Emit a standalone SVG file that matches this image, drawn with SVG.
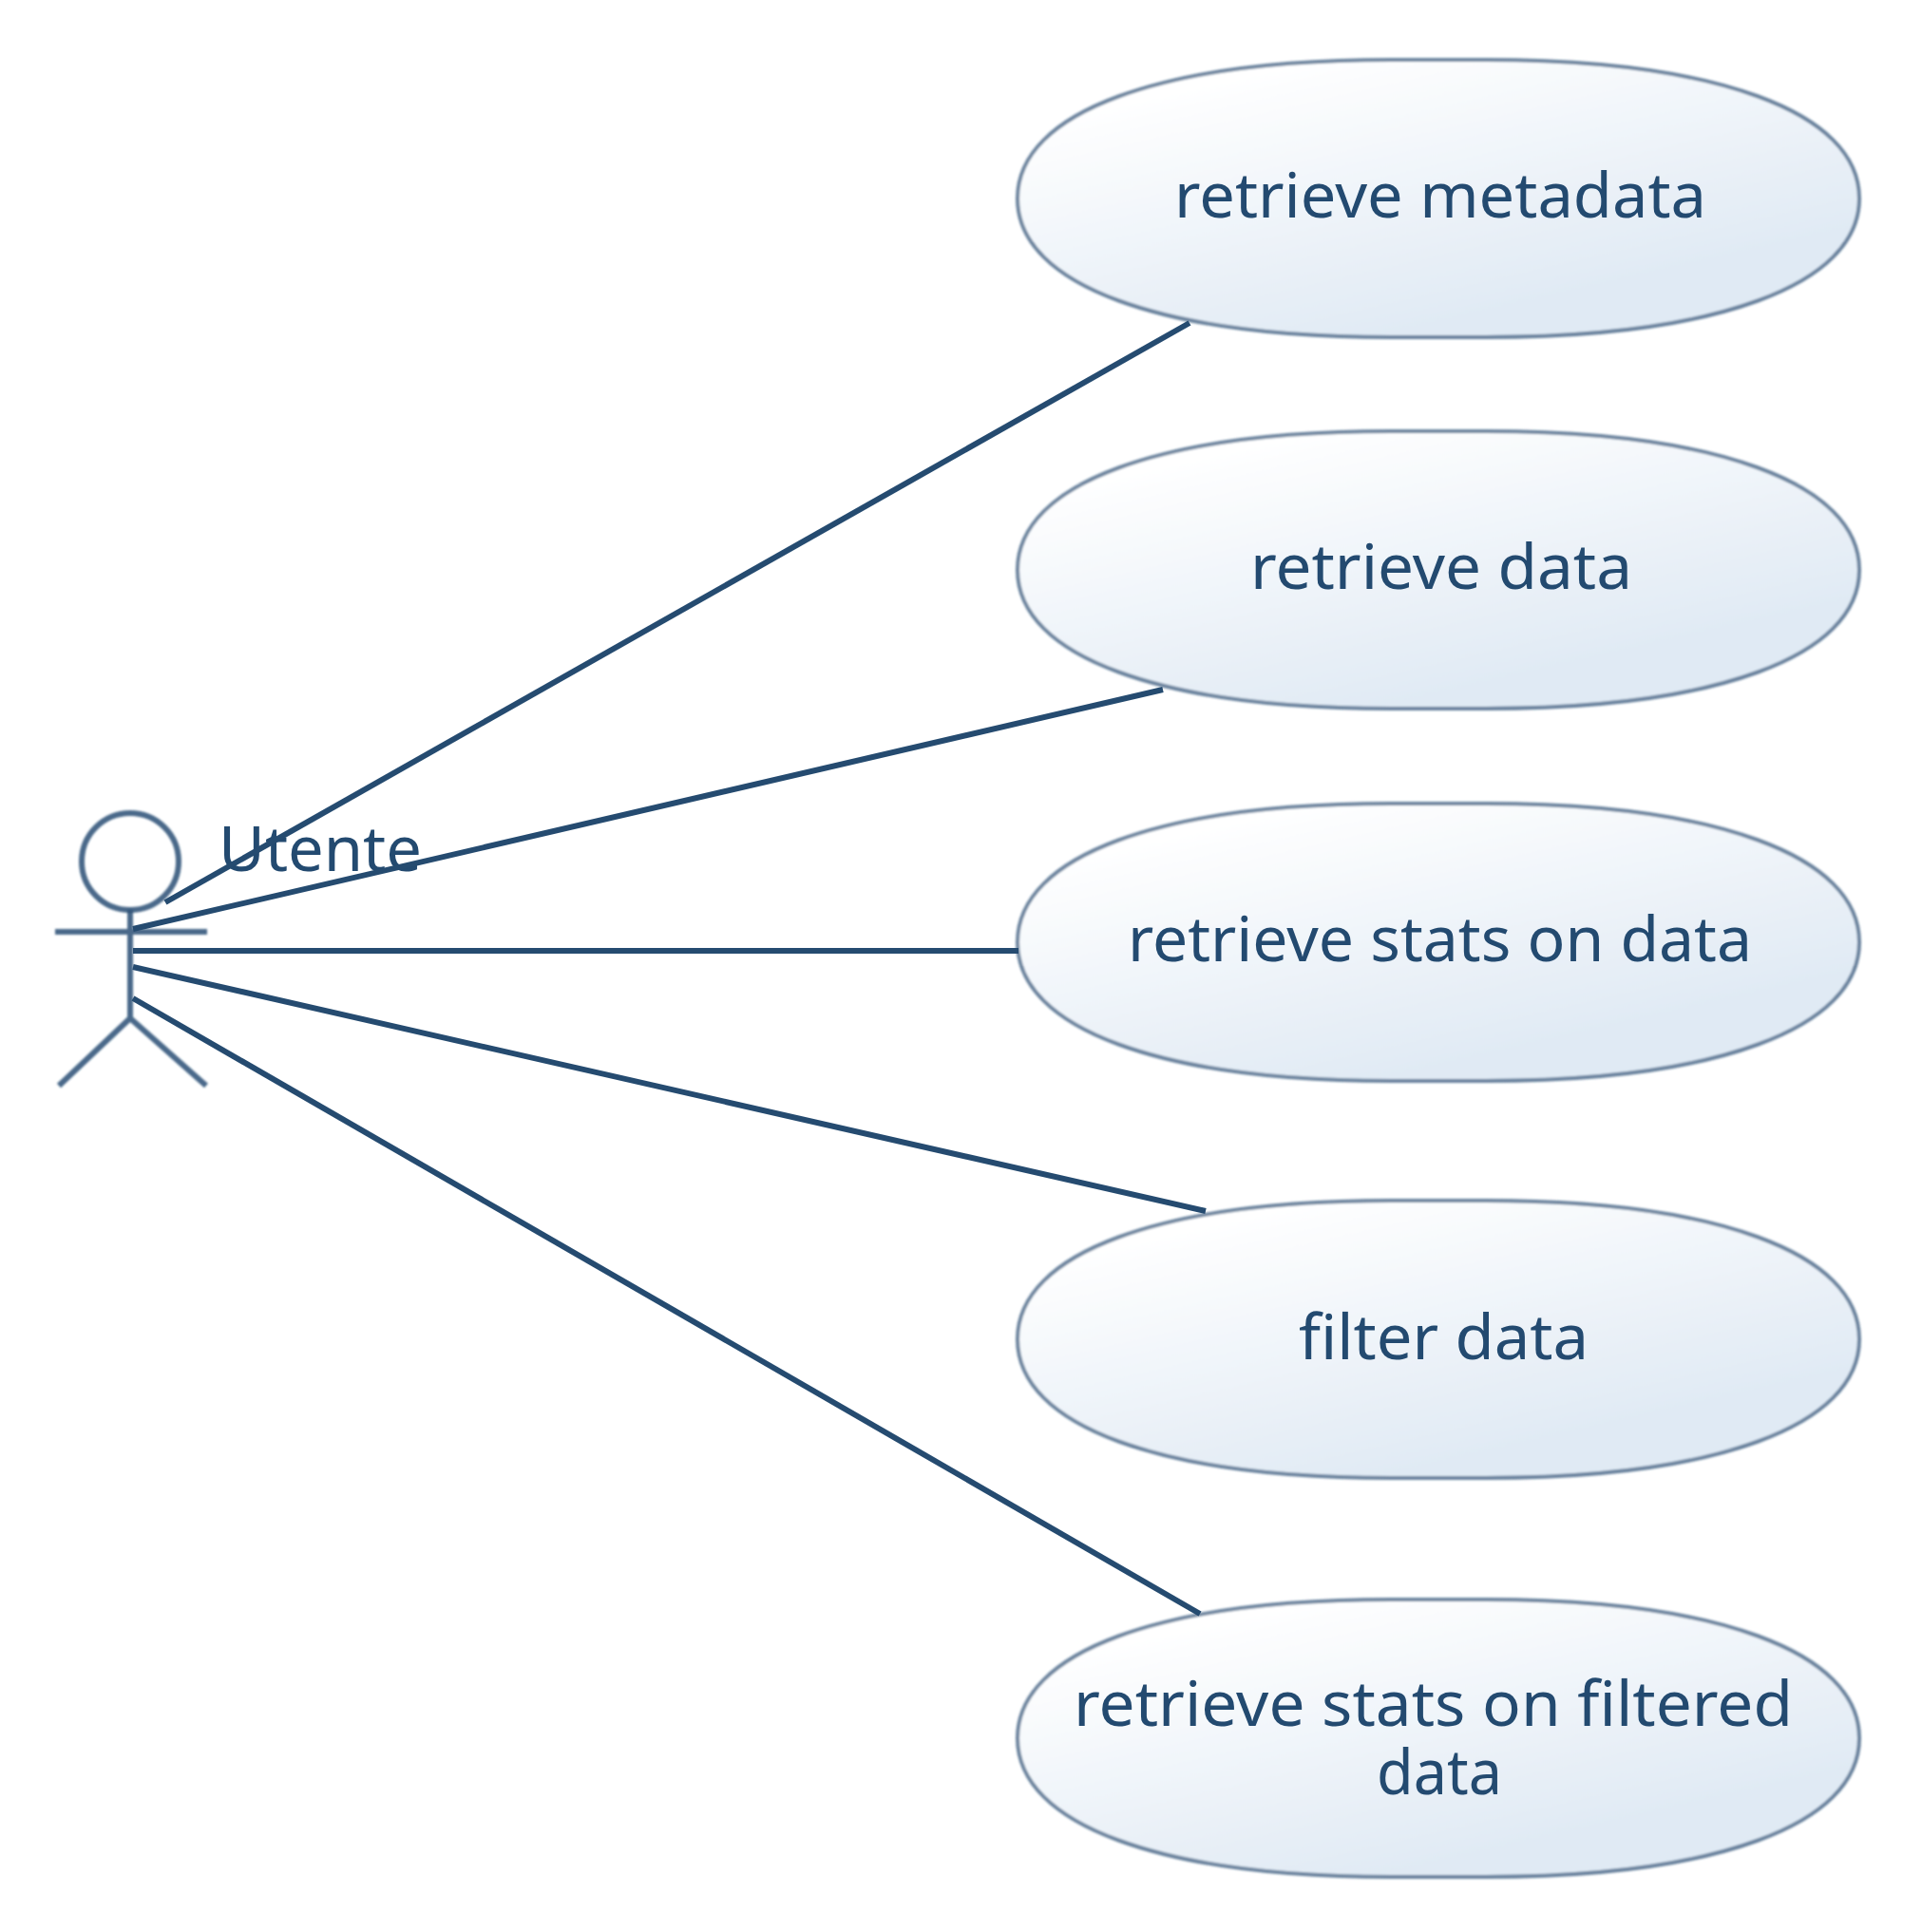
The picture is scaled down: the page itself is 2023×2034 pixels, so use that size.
<svg xmlns="http://www.w3.org/2000/svg" width="2023" height="2034" viewBox="0 0 2023 2034">
<style>
.uc{fill:url(#g);stroke:#2a4f75;stroke-width:4;stroke-opacity:.7;filter:url(#b)}
.ac{fill:none;stroke:#2a4f75;stroke-width:6;stroke-opacity:.85;filter:url(#b)}
.t{font-family:"Noto Sans","Open Sans",sans-serif;font-size:66px;fill:#234a70;text-anchor:start}
.c{stroke:#254b70;stroke-width:6;fill:none}
</style>
<defs>
<linearGradient id="g" x1="0.22" y1="0.08" x2="0.72" y2="0.8"><stop offset="0" stop-color="#ffffff"/><stop offset="1" stop-color="#e0eaf4"/></linearGradient>
<filter id="b" x="-5%" y="-5%" width="110%" height="110%"><feGaussianBlur stdDeviation="1.1"/></filter>
<path id="u" d="M-443 0C-443 -92 -290 -146 -50 -146H50C290 -146 443 -92 443 0C443 92 290 146 50 146H-50C-290 146 -443 92 -443 0Z"/>
</defs>
<rect width="2023" height="2034" fill="#ffffff"/>
<g id="uc1"><use href="#u" class="uc" x="1514" y="209"/><text class="t" x="1236" y="229" textLength="560" lengthAdjust="spacingAndGlyphs">retrieve metadata</text></g>
<g id="uc2"><use href="#u" class="uc" x="1514" y="600"/><text class="t" x="1316" y="620" textLength="402" lengthAdjust="spacingAndGlyphs">retrieve data</text></g>
<g id="uc3"><use href="#u" class="uc" x="1514" y="992"/><text class="t" x="1187" y="1012" textLength="657" lengthAdjust="spacingAndGlyphs">retrieve stats on data</text></g>
<g id="uc4"><use href="#u" class="uc" x="1514" y="1410"/><text class="t" x="1367" y="1431" textLength="305" lengthAdjust="spacingAndGlyphs">filter data</text></g>
<g id="uc5"><use href="#u" class="uc" x="1514" y="1830"/><text class="t"><tspan x="1130" y="1817" textLength="757" lengthAdjust="spacingAndGlyphs">retrieve stats on filtered</tspan><tspan x="1449" y="1889" textLength="132" lengthAdjust="spacingAndGlyphs">data</tspan></text></g>
<g id="actor"><circle class="ac" cx="137" cy="907" r="51"/><path class="ac" d="M137 958V1072M58 981H218M137 1072L62 1143M137 1072L217 1143"/><text class="t" x="230" y="917" textLength="214" lengthAdjust="spacingAndGlyphs">Utente</text></g>
<g id="connectors">
<path class="c" d="M174 950L1252 340"/>
<path class="c" d="M140 978L1224 726"/>
<path class="c" d="M140 1001H1072"/>
<path class="c" d="M140 1018L1269 1275"/>
<path class="c" d="M140 1051L1263 1699"/>
</g>
</svg>
